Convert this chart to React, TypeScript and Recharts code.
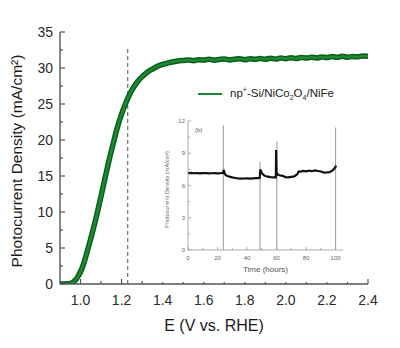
import React from 'react';
import { LineChart, Line, XAxis, YAxis, Legend, ReferenceLine, Label } from 'recharts';

// ---------- main J-E curve ----------
const potential = [
  0.9, 0.92, 0.94, 0.95, 0.96, 0.97, 0.98, 0.99, 1.0, 1.01, 1.02, 1.03, 1.04, 1.06, 1.08, 1.1, 1.12, 1.14, 1.16,
  1.18, 1.2, 1.22, 1.24, 1.26, 1.28, 1.3, 1.32, 1.34, 1.36, 1.38, 1.4, 1.42, 1.44, 1.46, 1.48,
  1.5, 1.525, 1.55, 1.575, 1.6, 1.625, 1.65, 1.675, 1.7, 1.725, 1.75, 1.775, 1.8, 1.825, 1.85, 1.875,
  1.9, 1.925, 1.95, 1.975, 2.0, 2.025, 2.05, 2.075, 2.1, 2.125, 2.15, 2.175, 2.2, 2.225, 2.25, 2.275,
  2.3, 2.325, 2.35, 2.375, 2.4,
];
const currentDensity = [
  0, 0, 0.02, 0.06, 0.18, 0.4, 0.72, 1.15, 1.7, 2.4, 3.25, 4.25, 5.3, 7.4, 9.7, 12.2, 14.8, 17.3, 19.6,
  21.8, 23.6, 25.1, 26.4, 27.4, 28.2, 28.8, 29.3, 29.7, 30.0, 30.3, 30.5, 30.65, 30.8, 30.9, 31.0,
  31.05, 31.12, 31.02, 31.15, 31.1, 31.22, 31.08, 31.18, 31.25, 31.12, 31.22, 31.3, 31.15, 31.28, 31.2, 31.32,
  31.22, 31.35, 31.25, 31.38, 31.3, 31.42, 31.33, 31.45, 31.38, 31.5, 31.4, 31.52, 31.45, 31.58, 31.48, 31.62,
  31.5, 31.6, 31.55, 31.66, 31.64,
];
const seriesName = 'np+-Si/NiCo2O4/NiFe';

const xMajor = [1.0, 1.2, 1.4, 1.6, 1.8, 2.0, 2.2, 2.4];
const xMinor = [1.1, 1.3, 1.5, 1.7, 1.9, 2.1, 2.3];
const yMajor = [0, 5, 10, 15, 20, 25, 30, 35];
const yMinor = [2.5, 7.5, 12.5, 17.5, 22.5, 27.5, 32.5];

const rheE = 1.23;
const rheTop = 33;

// ---------- inset stability test ----------
const hours = [
  0, 2, 4, 6, 8, 10, 12, 14, 16, 18, 20, 22, 23.8, 24.2, 25, 26, 28, 30, 32, 34, 36, 38, 40, 42, 44,
  46, 48, 48.6, 49, 50, 51, 52, 54, 56, 58, 59.5, 59.7, 60, 61, 62, 64, 66, 68, 70, 72, 74, 75, 76,
  78, 80, 82, 84, 86, 88, 90, 92, 94, 96, 98, 99, 100, 100.3,
];
const stability = [
  7.15, 7.17, 7.14, 7.16, 7.13, 7.15, 7.16, 7.12, 7.14, 7.15, 7.13, 7.14, 7.18, 7.45, 7.05, 6.92,
  6.82, 6.75, 6.7, 6.66, 6.64, 6.65, 6.66, 6.64, 6.67, 6.69, 6.68, 6.7, 7.5, 7.15, 7.0, 6.9, 6.82,
  6.78, 6.76, 6.75, 9.3, 7.2, 7.0, 6.95, 6.9, 6.78, 6.75, 6.8, 6.85, 7.05, 7.3, 7.28, 7.35, 7.32,
  7.38, 7.33, 7.4, 7.35, 7.3, 7.2, 7.22, 7.25, 7.4, 7.55, 7.75, 7.85,
];
const spikeHours = [23.9, 48.8, 60.2, 100.0];
const spikeTops = [11.6, 8.2, 10.1, 11.4];

const tMajor = [0, 20, 40, 60, 80, 100];
const tMinor = [10, 30, 50, 70, 90];
const jMajor = [0, 3, 6, 9, 12];
const jMinor = [1.5, 4.5, 7.5, 10.5];

const mainData = potential.map((e, i) => ({ e, j: currentDensity[i] }));
const insetData = hours.map((t, i) => ({ t, j: stability[i] }));

const FONT = '"Liberation Sans", Arial, sans-serif';

type TickOpts = {
  side: 'bottom' | 'top' | 'left' | 'right';
  majors: number[];
  major: number;
  minor: number;
  labels: boolean;
  fmt: (v: number) => string;
  gap: number;
  fontSize: number;
  color: string;
  tickColor: string;
  tickWidth: number;
};

const makeTick = (o: TickOpts) => (props: any) => {
  const { x, y, payload } = props;
  const v = payload.value;
  const isMajor = o.majors.some((m) => Math.abs(m - v) < 1e-6);
  const len = isMajor ? o.major : o.minor;
  let line: any = null;
  let text: any = null;
  if (o.side === 'bottom') {
    line = <line x1={x} y1={y} x2={x} y2={y - len} stroke={o.tickColor} strokeWidth={o.tickWidth} />;
    if (o.labels && isMajor)
      text = (
        <text x={x} y={y + o.gap} textAnchor="middle" fontSize={o.fontSize} fill={o.color} fontFamily={FONT}>
          {o.fmt(v)}
        </text>
      );
  } else if (o.side === 'top') {
    line = <line x1={x} y1={y} x2={x} y2={y + len} stroke={o.tickColor} strokeWidth={o.tickWidth} />;
  } else if (o.side === 'left') {
    line = <line x1={x} y1={y} x2={x + len} y2={y} stroke={o.tickColor} strokeWidth={o.tickWidth} />;
    if (o.labels && isMajor)
      text = (
        <text x={x - o.gap} y={y} dy="0.36em" textAnchor="end" fontSize={o.fontSize} fill={o.color} fontFamily={FONT}>
          {o.fmt(v)}
        </text>
      );
  } else {
    line = <line x1={x} y1={y} x2={x - len} y2={y} stroke={o.tickColor} strokeWidth={o.tickWidth} />;
  }
  return (
    <g>
      {line}
      {text}
    </g>
  );
};

const mainTickBase = {
  major: 5,
  minor: 3,
  fontSize: 14,
  color: '#2a2a2a',
  tickColor: '#555',
  tickWidth: 1.2,
};

const LegendContent = () => (
  <div style={{ display: 'flex', alignItems: 'center', fontFamily: FONT, fontSize: 11.5, color: '#222', whiteSpace: 'nowrap' }}>
    <svg width={26} height={6} style={{ marginRight: 6 }}>
      <line x1={0} y1={3} x2={24} y2={3} stroke="#1b8a30" strokeWidth={2} />
    </svg>
    <span>
      np<sup style={{ fontSize: 7 }}>+</sup>-Si/NiCo<sub style={{ fontSize: 7 }}>2</sub>O<sub style={{ fontSize: 7 }}>4</sub>/NiFe
    </span>
  </div>
);

const Inset = () => {
  const base = { major: 3, minor: 2, fontSize: 6, color: '#666', tickColor: '#999', tickWidth: 0.8 };
  return (
    <LineChart
      width={200}
      height={172}
      data={insetData}
      margin={{ top: 11, right: 7, bottom: 0, left: 0 }}
      style={{ background: '#fff' }}
    >
      <XAxis
        xAxisId="b"
        type="number"
        dataKey="t"
        domain={[0, 105]}
        ticks={[...tMajor, ...tMinor].sort((a, b) => a - b)}
        interval={0}
        allowDataOverflow
        height={32}
        tickSize={0}
        tickMargin={0}
        tickLine={false}
        axisLine={{ stroke: '#999', strokeWidth: 0.8 }}
        tick={makeTick({ ...base, side: 'bottom', majors: tMajor, labels: true, fmt: (v) => String(v), gap: 10 })}
      >
        <Label
          content={(p: any) => (
            <text
              x={p.viewBox.x + p.viewBox.width / 2}
              y={p.viewBox.y + 22}
              textAnchor="middle"
              fontSize={8}
              fill="#555"
              fontFamily={FONT}
            >
              Time (hours)
            </text>
          )}
        />
      </XAxis>
      <XAxis
        xAxisId="t"
        orientation="top"
        type="number"
        dataKey="t"
        domain={[0, 105]}
        ticks={[...tMajor, ...tMinor].sort((a, b) => a - b)}
        interval={0}
        allowDataOverflow
        height={0}
        tickSize={0}
        tickMargin={0}
        tickLine={false}
        axisLine={{ stroke: '#999', strokeWidth: 0.8 }}
        tick={makeTick({ ...base, side: 'top', majors: tMajor, labels: false, fmt: (v) => String(v), gap: 0 })}
      />
      <YAxis
        yAxisId="l"
        type="number"
        domain={[0, 12]}
        ticks={[...jMajor, ...jMinor].sort((a, b) => a - b)}
        interval={0}
        allowDataOverflow
        width={38}
        tickSize={0}
        tickMargin={0}
        tickLine={false}
        axisLine={{ stroke: '#999', strokeWidth: 0.8 }}
        tick={makeTick({ ...base, side: 'left', majors: jMajor, labels: true, fmt: (v) => String(v), gap: 3 })}
      >
        <Label
          content={(p: any) => {
            const cx = p.viewBox.x + 17;
            const cy = p.viewBox.y + p.viewBox.height / 2 + 4;
            return (
              <text
                x={cx}
                y={cy}
                transform={`rotate(-90 ${cx} ${cy})`}
                textAnchor="middle"
                dy="0.35em"
                fontSize={5.6}
                fill="#666"
                fontFamily={FONT}
              >
                Photocurrent Density (mA/cm²)
              </text>
            );
          }}
        />
      </YAxis>
      <YAxis
        yAxisId="r"
        orientation="right"
        type="number"
        domain={[0, 12]}
        ticks={[...jMajor, ...jMinor].sort((a, b) => a - b)}
        interval={0}
        allowDataOverflow
        width={0}
        tickSize={0}
        tickMargin={0}
        tickLine={false}
        axisLine={{ stroke: '#999', strokeWidth: 0.8 }}
        tick={makeTick({ ...base, side: 'right', majors: jMajor, labels: false, fmt: (v) => String(v), gap: 0 })}
      />
      {spikeHours.map((t, i) => (
        <ReferenceLine
          key={t}
          xAxisId="b"
          yAxisId="l"
          segment={[
            { x: t, y: 0 },
            { x: t, y: spikeTops[i] },
          ]}
          stroke="#9a9a9a"
          strokeWidth={1}
          ifOverflow="visible"
        />
      ))}
      <Line
        xAxisId="b"
        yAxisId="l"
        dataKey="j"
        type="linear"
        stroke="#111"
        strokeWidth={2.2}
        dot={false}
        isAnimationActive={false}
      />
      <ReferenceLine
        xAxisId="b"
        yAxisId="l"
        x={0}
        stroke="none"
        label={{ value: '(b)', position: 'insideTopLeft', offset: 7, fontSize: 6, fill: '#555' }}
      />
    </LineChart>
  );
};

export default function App() {
  return (
    <div style={{ position: 'absolute', left: 0, top: 0, width: 400, height: 348, background: '#fff', fontFamily: FONT }}>
      <LineChart width={400} height={348} data={mainData} margin={{ top: 32, right: 32, bottom: 0, left: 0 }}>
        <XAxis
          xAxisId="b"
          type="number"
          dataKey="e"
          domain={[0.9, 2.4]}
          ticks={[...xMajor, ...xMinor].sort((a, b) => a - b)}
          interval={0}
          allowDataOverflow
          height={64}
          tickSize={0}
          tickMargin={0}
          tickLine={false}
          axisLine={{ stroke: '#555', strokeWidth: 1.4 }}
          tick={makeTick({ ...mainTickBase, side: 'bottom', majors: xMajor, labels: true, fmt: (v) => v.toFixed(1), gap: 21 })}
        >
          <Label
            content={(p: any) => (
              <text
                x={p.viewBox.x + p.viewBox.width / 2}
                y={p.viewBox.y + 47}
                textAnchor="middle"
                fontSize={16}
                fill="#1a1a1a"
                fontFamily={FONT}
              >
                E (V vs. RHE)
              </text>
            )}
          />
        </XAxis>
        <XAxis
          xAxisId="t"
          orientation="top"
          type="number"
          dataKey="e"
          domain={[0.9, 2.4]}
          ticks={[...xMajor, ...xMinor].sort((a, b) => a - b)}
          interval={0}
          allowDataOverflow
          height={0}
          tickSize={0}
          tickMargin={0}
          tickLine={false}
          axisLine={{ stroke: '#555', strokeWidth: 1.2 }}
          tick={makeTick({ ...mainTickBase, side: 'top', majors: xMajor, labels: false, fmt: (v) => String(v), gap: 0 })}
        />
        <YAxis
          yAxisId="l"
          type="number"
          domain={[0, 35]}
          ticks={[...yMajor, ...yMinor].sort((a, b) => a - b)}
          interval={0}
          allowDataOverflow
          width={60}
          tickSize={0}
          tickMargin={0}
          tickLine={false}
          axisLine={{ stroke: '#555', strokeWidth: 1.4 }}
          tick={makeTick({ ...mainTickBase, side: 'left', majors: yMajor, labels: true, fmt: (v) => String(v), gap: 7 })}
        >
          <Label
            content={(p: any) => {
              const cx = p.viewBox.x + 17;
              const cy = p.viewBox.y + p.viewBox.height / 2 + 3;
              return (
                <text
                  x={cx}
                  y={cy}
                  transform={`rotate(-90 ${cx} ${cy})`}
                  textAnchor="middle"
                  dy="0.35em"
                  fontSize={15.5}
                  fill="#1a1a1a"
                  fontFamily={FONT}
                >
                  Photocurrent Density (mA/cm²)
                </text>
              );
            }}
          />
        </YAxis>
        <YAxis
          yAxisId="r"
          orientation="right"
          type="number"
          domain={[0, 35]}
          ticks={[...yMajor, ...yMinor].sort((a, b) => a - b)}
          interval={0}
          allowDataOverflow
          width={0}
          tickSize={0}
          tickMargin={0}
          tickLine={false}
          axisLine={{ stroke: '#666', strokeWidth: 2 }}
          tick={makeTick({ ...mainTickBase, side: 'right', majors: yMajor, labels: false, fmt: (v) => String(v), gap: 0 })}
        />
        <ReferenceLine
          xAxisId="b"
          yAxisId="l"
          segment={[
            { x: rheE, y: 0 },
            { x: rheE, y: rheTop },
          ]}
          stroke="#555"
          strokeWidth={1}
          strokeDasharray="4 3"
        />
        <Line
          xAxisId="b"
          yAxisId="l"
          dataKey="j"
          type="monotone"
          stroke="#0c5c1e"
          strokeWidth={5.5}
          dot={false}
          legendType="none"
          isAnimationActive={false}
        />
        <Line
          xAxisId="b"
          yAxisId="l"
          dataKey="j"
          name={seriesName}
          type="monotone"
          stroke="#1b8a30"
          strokeWidth={2.5}
          dot={false}
          isAnimationActive={false}
        />
        <Legend
          layout="horizontal"
          verticalAlign="middle"
          align="center"
          content={<LegendContent />}
          wrapperStyle={{ position: 'absolute', left: 198, top: 86, width: 'auto' }}
        />
      </LineChart>
      <div style={{ position: 'absolute', left: 150, top: 110 }}>
        <Inset />
      </div>
    </div>
  );
}
